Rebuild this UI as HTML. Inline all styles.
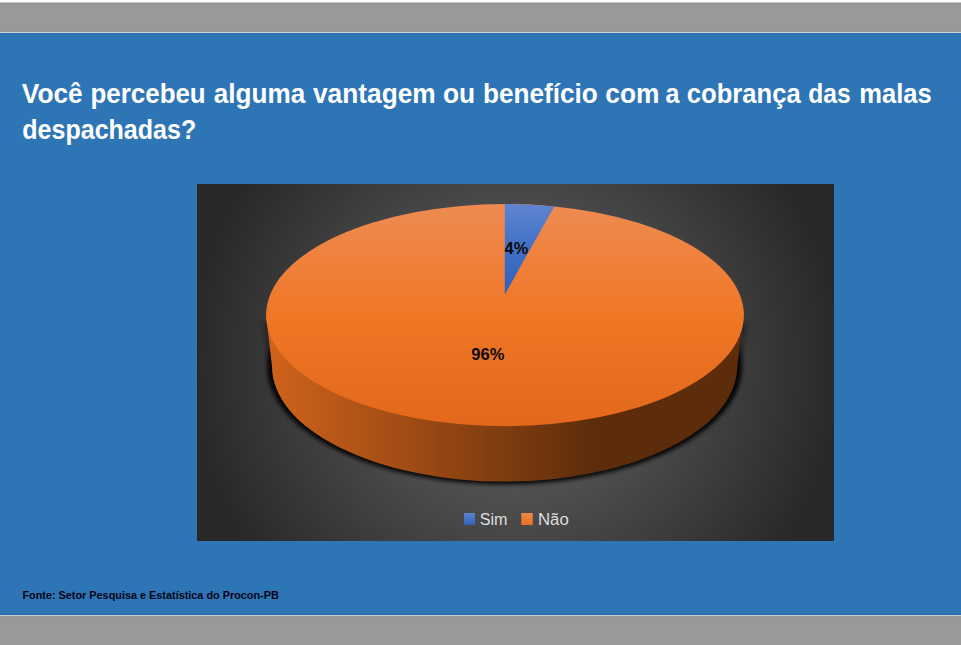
<!DOCTYPE html>
<html lang="pt-BR">
<head>
<meta charset="utf-8">
<title>Pesquisa Procon-PB - cobrança das malas despachadas</title>
<style>
  html, body { margin: 0; padding: 0; }
  body {
    width: 961px; height: 645px; overflow: hidden; position: relative;
    background: #999999;
    font-family: "Liberation Sans", sans-serif;
  }
  .bands { position: absolute; left: 0; top: 0; width: 961px; height: 645px;
    background: linear-gradient(to bottom, #fafafa 0px, #fafafa 1px, #fefefe 1px, #fefefe 2px, #c4c4c4 2px, #c4c4c4 3px, #959595 3px, #959595 4px, #999999 4px, #999999 31px, #959595 31px, #959595 32px, #d3d0cc 32px, #d3d0cc 33px, #2570b6 33px, #2570b6 34px, #2e75b6 34px, #2e75b6 614px, #2570b6 614px, #2570b6 615px, #cfccc8 615px, #cfccc8 616px, #969696 616px, #969696 617px, #999999 617px, #999999 645px); }
  svg { position: absolute; left: 0; top: 0; }
  .title { font-weight: bold; font-size: 27.3px; fill: #ffffff; }
  .fonte { font-weight: bold; font-size: 11.3px; fill: #030316; }
  .dl    { font-weight: bold; font-size: 16.4px; fill: #0a0a0a; }
  .leg   { font-size: 16px; fill: #dedede; }
</style>
</head>
<body>
<div class="bands"></div>

<svg width="961" height="645" viewBox="0 0 961 645">
  <defs>
    <radialGradient id="bg" gradientUnits="userSpaceOnUse" cx="515.5" cy="362.5" r="327">
      <stop offset="0" stop-color="#696969"/>
      <stop offset="1" stop-color="#282828"/>
    </radialGradient>
    <linearGradient id="topface" gradientUnits="userSpaceOnUse" x1="0" y1="204" x2="0" y2="426">
      <stop offset="0" stop-color="#ee8b52"/>
      <stop offset="0.5" stop-color="#f07726"/>
      <stop offset="1" stop-color="#e3681b"/>
    </linearGradient>
    <linearGradient id="blueface" gradientUnits="userSpaceOnUse" x1="0" y1="204" x2="0" y2="295">
      <stop offset="0" stop-color="#5f85d0"/>
      <stop offset="0.5" stop-color="#416fc6"/>
      <stop offset="1" stop-color="#2f5fba"/>
    </linearGradient>
    <linearGradient id="side" gradientUnits="userSpaceOnUse" x1="267" y1="0" x2="744" y2="0">
      <stop offset="0" stop-color="#d1631b"/>
      <stop offset="0.698" stop-color="#5c2c0b"/>
      <stop offset="1" stop-color="#5c2c0b"/>
    </linearGradient>
    <linearGradient id="sqblue" x1="0" y1="0" x2="0" y2="1">
      <stop offset="0" stop-color="#5b82cf"/>
      <stop offset="1" stop-color="#3262bd"/>
    </linearGradient>
    <linearGradient id="sqorange" x1="0" y1="0" x2="0" y2="1">
      <stop offset="0" stop-color="#f0884a"/>
      <stop offset="1" stop-color="#ea6f22"/>
    </linearGradient>
    <filter id="shadow" x="-10%" y="-10%" width="120%" height="130%">
      <feGaussianBlur stdDeviation="2"/>
    </filter>
    <filter id="shadow2" x="-10%" y="-10%" width="120%" height="130%">
      <feGaussianBlur stdDeviation="2.5"/>
    </filter>
  </defs>

  <!-- chart plot background -->
  <rect x="197" y="184" width="637" height="357" fill="url(#bg)"/>

  <!-- pie drop shadow -->
  <g filter="url(#shadow2)" opacity="0.3">
    <path d="M262.5 322 L268 367.5 A236.6 116.5 0 0 0 741.2 367.5 L747.5 322 Z" fill="#000"/>
  </g>
  <g filter="url(#shadow)" opacity="0.9">
    <ellipse cx="504.6" cy="366.5" rx="237" ry="117.5" fill="#000"/>
  </g>

  <!-- pie side wall -->
  <path d="M266.1 315.1 L272 366.3 A232.6 115.3 0 0 0 737.2 366.3 L743.9 315.1 Z" fill="url(#side)"/>

  <!-- pie top face -->
  <ellipse cx="505" cy="315.1" rx="238.9" ry="111.1" fill="url(#topface)"/>
  <!-- blue slice -->
  <path d="M504.8 294.4 L504.8 204 A238.9 111.1 0 0 1 554.3 206.4 Z" fill="url(#blueface)"/>

  <!-- data labels -->
  <text class="dl" x="504.6" y="254.3" textLength="23.6" lengthAdjust="spacingAndGlyphs">4%</text>
  <text class="dl" x="471.3" y="360" textLength="33.1" lengthAdjust="spacingAndGlyphs">96%</text>

  <!-- legend -->
  <rect x="464" y="513" width="11" height="12" fill="url(#sqblue)"/>
  <text class="leg" x="479.7" y="524.7" textLength="27.8" lengthAdjust="spacingAndGlyphs">Sim</text>
  <rect x="521.3" y="513" width="11.5" height="12" fill="url(#sqorange)"/>
  <text class="leg" x="538" y="524.7" textLength="30.7" lengthAdjust="spacingAndGlyphs">Não</text>

  <!-- title -->
  <text class="title" y="103">
    <tspan x="21.8" textLength="60.9" lengthAdjust="spacingAndGlyphs">Você</tspan>
    <tspan x="90.5" textLength="115.2" lengthAdjust="spacingAndGlyphs">percebeu</tspan>
    <tspan x="213.8" textLength="91.4" lengthAdjust="spacingAndGlyphs">alguma</tspan>
    <tspan x="313.0" textLength="122.7" lengthAdjust="spacingAndGlyphs">vantagem</tspan>
    <tspan x="443.0" textLength="32.2" lengthAdjust="spacingAndGlyphs">ou</tspan>
    <tspan x="483.0" textLength="114.7" lengthAdjust="spacingAndGlyphs">benefício</tspan>
    <tspan x="605.3" textLength="54.1" lengthAdjust="spacingAndGlyphs">com</tspan>
    <tspan x="665.5" textLength="13.9" lengthAdjust="spacingAndGlyphs">a</tspan>
    <tspan x="686.8" textLength="113.9" lengthAdjust="spacingAndGlyphs">cobrança</tspan>
    <tspan x="808.3" textLength="42.4" lengthAdjust="spacingAndGlyphs">das</tspan>
    <tspan x="859.3" textLength="72.4" lengthAdjust="spacingAndGlyphs">malas</tspan>
    <tspan x="22.3" y="139" textLength="173.9" lengthAdjust="spacingAndGlyphs">despachadas?</tspan>
  </text>

  <!-- source -->
  <text class="fonte" x="22.4" y="598.8" textLength="256.4" lengthAdjust="spacingAndGlyphs">Fonte: Setor Pesquisa e Estatística do Procon-PB</text>
</svg>
</body>
</html>
